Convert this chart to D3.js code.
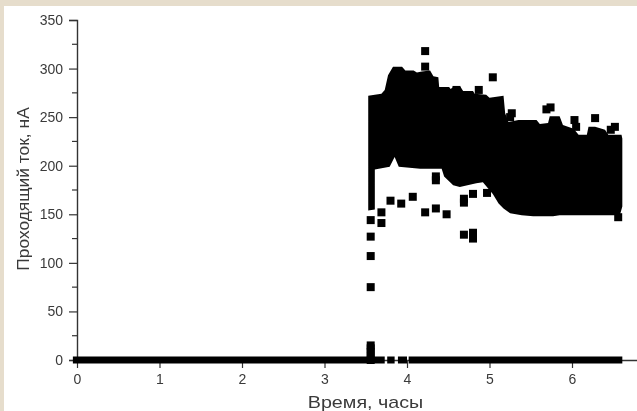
<!DOCTYPE html>
<html>
<head>
<meta charset="utf-8">
<script src="https://cdn.jsdelivr.net/npm/d3@7"></script>
<style>
html, body { margin: 0; padding: 0; background: #e6ddcc; }
#chart { display: block; filter: blur(0.4px); }
text { font-family: "Liberation Sans", Arial, sans-serif; fill: #3a3a3a; }
</style>
</head>
<body>
<svg id="chart" width="637" height="411"></svg>
<script>
//Upper edge of the black mass
const upperTime = [3.53, 3.69, 3.73, 3.77, 3.83, 3.94, 3.98, 4.08, 4.12, 4.18, 4.28, 4.32, 4.38, 4.39, 4.51, 4.53, 4.56, 4.65, 4.68, 4.80, 4.82, 4.96, 5.0, 5.17, 5.19, 5.23, 5.35, 5.57, 5.61, 5.71, 5.73, 5.85, 5.89, 6.02, 6.08, 6.18, 6.2, 6.28, 6.4, 6.44, 6.6, 6.61];
const upperValue = [272, 274, 278, 293, 302, 302, 298, 298, 296, 297, 298, 292, 291, 281, 281, 279, 281, 281, 277, 277, 274, 273, 270, 272, 254, 245, 247, 247, 243, 244, 251, 251, 242, 238, 232, 232, 240, 240, 237, 232, 232, 228];

//Lower edge of the black mass
const lowerTime = [3.53, 3.61, 3.61, 3.79, 3.85, 3.90, 4.16, 4.42, 4.45, 4.56, 4.64, 4.84, 4.92, 5.04, 5.11, 5.17, 5.25, 5.39, 5.53, 5.77, 5.85, 6.02, 6.26, 6.58, 6.61];
const lowerValue = [154, 155, 196, 199, 209, 199, 197, 197, 189, 180, 178, 182, 183, 171, 161, 156, 151, 149, 148, 148, 149, 149, 149, 149, 158];

//Loose squares outside the mass
const looseTime = [3.56, 3.56, 3.56, 3.56, 3.69, 3.69, 3.80, 3.93, 4.07, 4.22, 4.22, 4.22, 4.35, 4.35, 4.35, 4.48, 4.60, 4.69, 4.69, 4.69, 4.80, 4.80, 4.80, 4.87, 4.97, 5.04, 5.25, 5.27, 5.69, 5.74, 6.03, 6.05, 6.28, 6.47, 6.52, 6.56];
const looseValue = [144, 127, 107, 75, 152, 141, 164, 161, 168, 318, 302, 152, 189, 185, 156, 150, 278, 166, 162, 129, 171, 131, 125, 278, 172, 291, 250, 254, 258, 260, 247, 240, 249, 237, 240, 147];

//Stack of squares just above zero where the current switches on
const riseValue = [0, 4, 8, 12, 15];
const riseTime = 3.56;

//Runs of zero readings along the bottom
const zeroStart = [-0.05, 3.76, 3.89, 4.02];
const zeroEnd = [3.73, 3.85, 4.0, 6.61];

const yTicks = [0, 50, 100, 150, 200, 250, 300, 350];
const yMinorTicks = [25, 75, 125, 175, 225, 275, 325];
const xTicks = [0, 1, 2, 3, 4, 5, 6];

const markerSize = 8;

var svg = d3.select('#chart');

//White panel on the textured paper
svg.append('rect')
    .attr('x', 4).attr('y', 6)
    .attr('width', 633).attr('height', 405)
    .attr('fill', '#ffffff');

var x = d3.scaleLinear().domain([0, 6]).range([77, 572]);
var y = d3.scaleLinear().domain([0, 350]).range([360, 20]);

//Axes
var xAxis = svg.append('g')
    .attr('transform', 'translate(0,' + y(0) + ')')
    .call(d3.axisBottom(x).tickValues(xTicks).tickFormat(d3.format('d')).tickSize(8).tickPadding(6));
xAxis.select('.domain').attr('d', 'M' + x(0) + ',0.5H637');

var yAxis = svg.append('g')
    .attr('transform', 'translate(' + x(0) + ',0)')
    .call(d3.axisLeft(y).tickValues(yTicks).tickFormat(d3.format('d')).tickSize(8).tickPadding(6));
yAxis.selectAll('.minor')
    .data(yMinorTicks)
    .enter().append('line')
    .attr('class', 'minor')
    .attr('y1', function(d) { return y(d); })
    .attr('y2', function(d) { return y(d); })
    .attr('x1', 0).attr('x2', -5)
    .attr('stroke', '#333')
    .attr('stroke-width', 1.2);

svg.selectAll('.domain').attr('stroke', '#333').attr('stroke-width', 1.4);
svg.selectAll('.tick line').attr('stroke', '#333').attr('stroke-width', 1.2);
svg.selectAll('.tick text').attr('font-size', 14).attr('font-family', '"Liberation Sans", Arial, sans-serif');

//Black mass
var upperPts = upperTime.map(function(t, i) { return [x(t), y(upperValue[i])]; });
var lowerPts = lowerTime.map(function(t, i) { return [x(t), y(lowerValue[i])]; }).reverse();
svg.append('path')
    .attr('d', d3.line()(upperPts.concat(lowerPts)) + 'Z')
    .attr('fill', '#000');

//Zero runs
svg.selectAll('.zero')
    .data(zeroStart)
    .enter().append('line')
    .attr('class', 'zero')
    .attr('x1', function(d) { return x(d); })
    .attr('x2', function(d, i) { return x(zeroEnd[i]); })
    .attr('y1', y(0))
    .attr('y2', y(0))
    .attr('stroke', '#000')
    .attr('stroke-width', 7);

//Squares
svg.selectAll('.rise')
    .data(riseValue)
    .enter().append('rect')
    .attr('class', 'rise')
    .attr('x', x(riseTime) - markerSize / 2)
    .attr('y', function(d) { return y(d) - markerSize / 2; })
    .attr('width', markerSize)
    .attr('height', markerSize)
    .attr('fill', '#000');

svg.selectAll('.loose')
    .data(looseTime)
    .enter().append('rect')
    .attr('class', 'loose')
    .attr('x', function(d) { return x(d) - markerSize / 2; })
    .attr('y', function(d, i) { return y(looseValue[i]) - markerSize / 2; })
    .attr('width', markerSize)
    .attr('height', markerSize)
    .attr('fill', '#000');

//Axis titles, the picture is stretched sideways a little
svg.append('text')
    .attr('transform', 'translate(365.5,408) scale(1.16,1)')
    .attr('text-anchor', 'middle')
    .attr('font-size', 17)
    .text('Время, часы');

svg.append('text')
    .attr('transform', 'translate(29,189) rotate(-90)')
    .attr('text-anchor', 'middle')
    .attr('font-size', 17.4)
    .text('Проходящий ток, нА');
</script>
</body>
</html>
